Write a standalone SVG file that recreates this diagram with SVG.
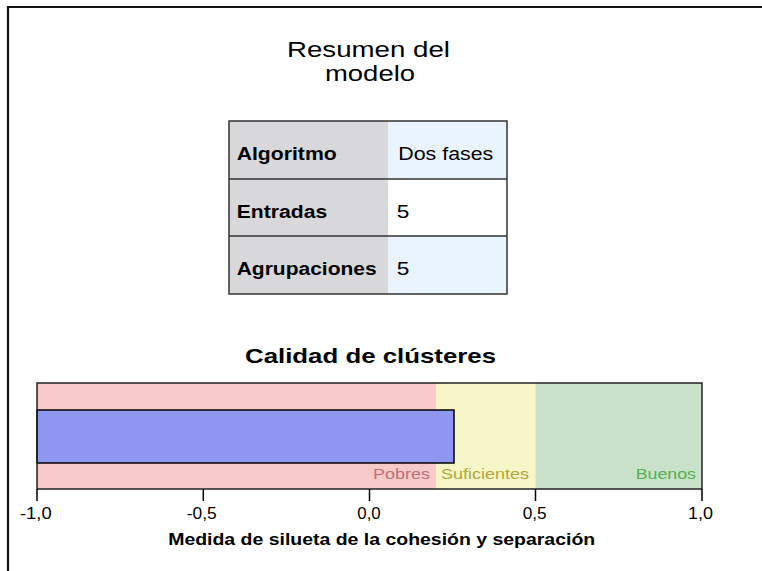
<svg xmlns="http://www.w3.org/2000/svg" width="762" height="571" viewBox="0 0 762 571">
<style>
text{font-family:"Liberation Sans",Arial,sans-serif;fill:#000}
.title{font-size:22px}
.ctitle{font-size:21px;font-weight:bold}
.lab{font-size:18px;font-weight:bold}
.val{font-size:18px}
.band{font-size:15px}
.tick{font-size:16.5px}
.axis{font-size:17px;font-weight:bold}
.cell{stroke:#333;stroke-width:1.5}
</style>
<rect width="762" height="571" fill="#fff"/>
<path d="M8,571 V7 H762" fill="none" stroke="#111" stroke-width="2.2"/>
<g id="title">
<text class="title" x="368.5" y="57" text-anchor="middle" textLength="163" lengthAdjust="spacingAndGlyphs">Resumen del</text>
<text class="title" x="370" y="81" text-anchor="middle" textLength="90" lengthAdjust="spacingAndGlyphs">modelo</text>
</g>
<g id="table">
<rect x="229" y="121" width="159" height="173" fill="#d8d8da"/>
<rect x="388" y="121" width="119" height="58" fill="#eaf4fe"/>
<rect x="388" y="179" width="119" height="57" fill="#fff"/>
<rect x="388" y="236" width="119" height="58" fill="#eaf4fe"/>
<rect x="229" y="121" width="278" height="173" fill="none" class="cell"/>
<line x1="229" y1="179" x2="507" y2="179" class="cell"/>
<line x1="229" y1="236" x2="507" y2="236" class="cell"/>
<text class="lab" x="236.7" y="160" textLength="100" lengthAdjust="spacingAndGlyphs">Algoritmo</text>
<text class="val" x="398.3" y="160" textLength="95" lengthAdjust="spacingAndGlyphs">Dos fases</text>
<text class="lab" x="236.7" y="218" textLength="90.6" lengthAdjust="spacingAndGlyphs">Entradas</text>
<text class="val" x="396.7" y="218" textLength="12.6" lengthAdjust="spacingAndGlyphs">5</text>
<text class="lab" x="236.7" y="275" textLength="140" lengthAdjust="spacingAndGlyphs">Agrupaciones</text>
<text class="val" x="396.7" y="275" textLength="12.6" lengthAdjust="spacingAndGlyphs">5</text>
</g>
<g id="chart">
<text class="ctitle" x="370.5" y="363" text-anchor="middle" textLength="251" lengthAdjust="spacingAndGlyphs">Calidad de clústeres</text>
<rect x="37" y="383" width="399" height="106" fill="#f7c9c9"/>
<rect x="436" y="383" width="99.5" height="106" fill="#f7f6c9"/>
<rect x="535.5" y="383" width="166.5" height="106" fill="#c9e0c9"/>
<rect x="37" y="410" width="417" height="53" fill="#8f96f0" stroke="#000" stroke-width="1.5"/>
<rect x="37" y="383" width="665" height="106" fill="none" stroke="#222" stroke-width="1.5"/>
<text class="band" x="373" y="479" style="fill:#c0707c" textLength="57" lengthAdjust="spacingAndGlyphs">Pobres</text>
<text class="band" x="441" y="479" style="fill:#b0a83a" textLength="88" lengthAdjust="spacingAndGlyphs">Suficientes</text>
<text class="band" x="635.7" y="479" style="fill:#52b052" textLength="60.3" lengthAdjust="spacingAndGlyphs">Buenos</text>
</g>
<g id="axis">
<g stroke="#000" stroke-width="1.5">
<line x1="37" y1="489" x2="37" y2="501"/>
<line x1="203.3" y1="489" x2="203.3" y2="501"/>
<line x1="369.5" y1="489" x2="369.5" y2="501"/>
<line x1="535.5" y1="489" x2="535.5" y2="501"/>
<line x1="702" y1="489" x2="702" y2="501"/>
</g>
<text class="tick" x="35.8" y="519" text-anchor="middle" textLength="31.7" lengthAdjust="spacingAndGlyphs">-1,0</text>
<text class="tick" x="201.7" y="519" text-anchor="middle" textLength="30" lengthAdjust="spacingAndGlyphs">-0,5</text>
<text class="tick" x="369" y="519" text-anchor="middle" textLength="23.4" lengthAdjust="spacingAndGlyphs">0,0</text>
<text class="tick" x="534.7" y="519" text-anchor="middle" textLength="24" lengthAdjust="spacingAndGlyphs">0,5</text>
<text class="tick" x="700.5" y="519" text-anchor="middle" textLength="25" lengthAdjust="spacingAndGlyphs">1,0</text>
<text class="axis" x="381.7" y="545" text-anchor="middle" textLength="427" lengthAdjust="spacingAndGlyphs">Medida de silueta de la cohesión y separación</text>
</g>
</svg>
